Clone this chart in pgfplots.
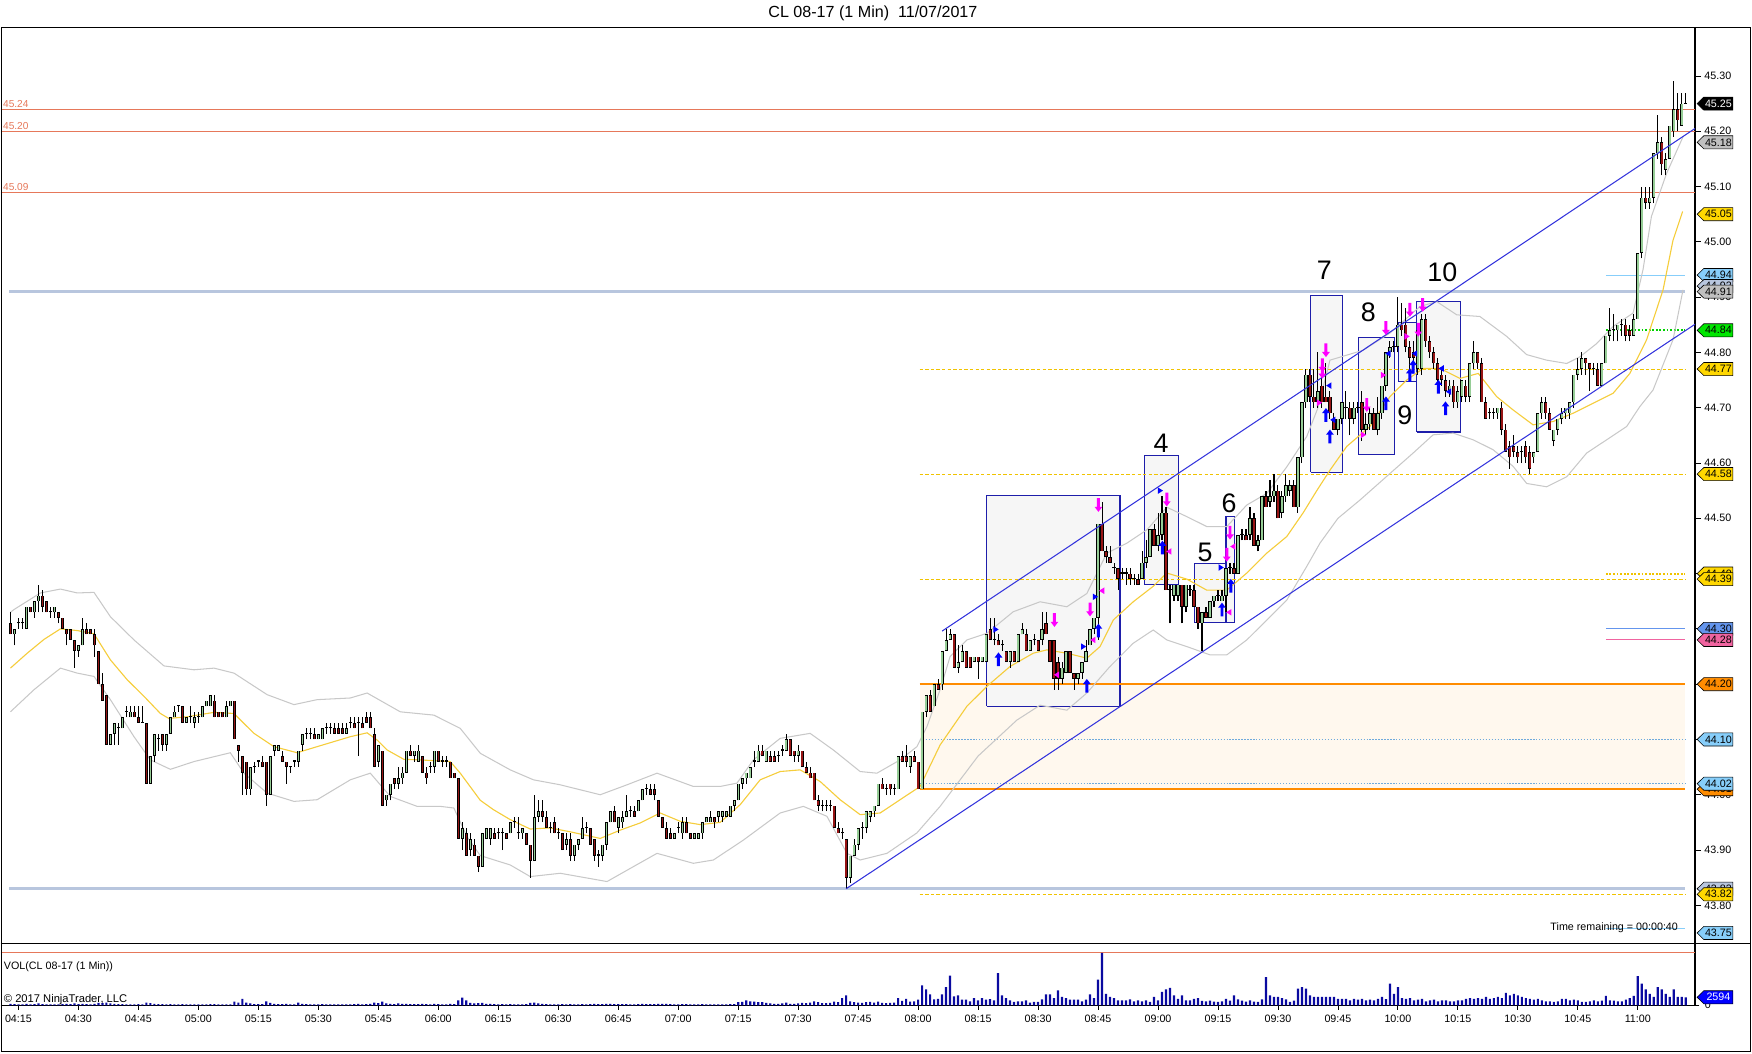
\documentclass[border=0pt]{standalone}
\usepackage{pgfplots}
\usepackage{pgfplotstable}
\pgfplotsset{compat=1.18}
\usepackage{fontspec}
\setmainfont{Liberation Sans}

\definecolor{upc}{RGB}{150,205,150}
\definecolor{dnc}{RGB}{150,20,20}
\definecolor{ema}{RGB}{245,205,60}
\definecolor{band}{RGB}{200,200,200}
\definecolor{salmon}{RGB}{230,120,90}
\definecolor{lsb}{RGB}{184,198,222}
\definecolor{gold}{RGB}{240,195,0}
\definecolor{orng}{RGB}{255,140,0}
\definecolor{zone}{RGB}{255,248,238}
\definecolor{dotblue}{RGB}{110,170,220}
\definecolor{chan}{RGB}{50,50,220}
\definecolor{boxb}{RGB}{30,30,170}
\definecolor{boxf}{RGB}{246,246,246}
\definecolor{arrb}{RGB}{0,0,255}
\definecolor{arrm}{RGB}{255,0,255}
\definecolor{volb}{RGB}{10,10,160}
\definecolor{tgold}{RGB}{255,215,0}
\definecolor{tsky}{RGB}{135,206,250}
\definecolor{tgray}{RGB}{192,192,192}
\definecolor{tgreen}{RGB}{0,230,0}
\definecolor{tcorn}{RGB}{100,149,237}
\definecolor{tpink}{RGB}{240,100,160}
\definecolor{gdot}{RGB}{0,210,0}

\newcommand{\tickfont}{\fontsize{7.2}{8}\selectfont}
\newcommand{\bignum}{\fontsize{18}{18}\selectfont}
\newcommand{\ptag}[4]{%
  \draw[fill=#2,line width=0.4pt,shift={(axis cs:419.83,#1)}]
    (0pt,0pt) -- (4.5pt,4.4pt) -- (24pt,4.4pt) -- (24pt,-4.4pt) -- (4.5pt,-4.4pt) -- cycle
    (14.3pt,0pt) node[text=#3,font=\tickfont,inner sep=0pt] {#4};}

\pgfdeclareplotmark{uarr}{%
 \pgfpathmoveto{\pgfqpoint{0pt}{4.6pt}}\pgfpathlineto{\pgfqpoint{2.6pt}{1.2pt}}%
 \pgfpathlineto{\pgfqpoint{1pt}{1.2pt}}\pgfpathlineto{\pgfqpoint{1pt}{-4.6pt}}%
 \pgfpathlineto{\pgfqpoint{-1pt}{-4.6pt}}\pgfpathlineto{\pgfqpoint{-1pt}{1.2pt}}%
 \pgfpathlineto{\pgfqpoint{-2.6pt}{1.2pt}}\pgfpathclose\pgfusepathqfill}
\pgfdeclareplotmark{darr}{%
 \pgfpathmoveto{\pgfqpoint{0pt}{-4.6pt}}\pgfpathlineto{\pgfqpoint{2.6pt}{-1.2pt}}%
 \pgfpathlineto{\pgfqpoint{1pt}{-1.2pt}}\pgfpathlineto{\pgfqpoint{1pt}{4.6pt}}%
 \pgfpathlineto{\pgfqpoint{-1pt}{4.6pt}}\pgfpathlineto{\pgfqpoint{-1pt}{-1.2pt}}%
 \pgfpathlineto{\pgfqpoint{-2.6pt}{-1.2pt}}\pgfpathclose\pgfusepathqfill}
\pgfdeclareplotmark{rtri}{%
 \pgfpathmoveto{\pgfqpoint{2pt}{0pt}}\pgfpathlineto{\pgfqpoint{-1.5pt}{2.2pt}}%
 \pgfpathlineto{\pgfqpoint{-1.5pt}{-2.2pt}}\pgfpathclose\pgfusepathqfill}
\pgfdeclareplotmark{ltri}{%
 \pgfpathmoveto{\pgfqpoint{-2pt}{0pt}}\pgfpathlineto{\pgfqpoint{1.5pt}{2.2pt}}%
 \pgfpathlineto{\pgfqpoint{1.5pt}{-2.2pt}}\pgfpathclose\pgfusepathqfill}

\pgfplotstableread{
t o h l c v
-2 44.31 44.33 44.29 44.29 500
-1 44.29 44.30 44.27 44.30 400
0 44.31 44.32 44.30 44.31 300
1 44.31 44.32 44.30 44.31 300
2 44.30 44.34 44.30 44.34 500
3 44.34 44.34 44.33 44.33 300
4 44.33 44.35 44.32 44.35 400
5 44.35 44.38 44.33 44.36 600
6 44.36 44.37 44.33 44.34 400
7 44.35 44.35 44.33 44.33 300
8 44.33 44.34 44.32 44.33 300
9 44.33 44.34 44.32 44.34 300
10 44.33 44.33 44.31 44.32 300
11 44.32 44.32 44.30 44.30 400
12 44.30 44.30 44.27 44.29 500
13 44.30 44.30 44.28 44.28 400
14 44.28 44.28 44.23 44.26 600
15 44.26 44.27 44.25 44.27 400
16 44.27 44.32 44.27 44.30 500
17 44.30 44.31 44.29 44.29 400
18 44.30 44.30 44.29 44.29 300
19 44.29 44.30 44.25 44.27 500
20 44.26 44.26 44.20 44.20 800
21 44.20 44.22 44.17 44.17 700
22 44.18 44.18 44.09 44.09 900
23 44.09 44.11 44.09 44.11 600
24 44.11 44.13 44.09 44.13 500
25 44.12 44.13 44.09 44.12 400
26 44.12 44.14 44.12 44.14 400
27 44.15 44.16 44.14 44.15 300
28 44.14 44.16 44.14 44.15 300
29 44.15 44.16 44.14 44.14 300
30 44.14 44.16 44.13 44.13 400
31 44.13 44.16 44.13 44.13 300
32 44.13 44.13 44.02 44.02 900
33 44.02 44.07 44.02 44.07 700
34 44.07 44.11 44.06 44.11 500
35 44.10 44.11 44.08 44.10 400
36 44.11 44.11 44.08 44.09 400
37 44.09 44.11 44.08 44.11 300
38 44.11 44.14 44.11 44.14 400
39 44.14 44.16 44.14 44.15 300
40 44.16 44.16 44.15 44.16 300
41 44.16 44.16 44.13 44.13 400
42 44.13 44.14 44.13 44.14 300
43 44.14 44.16 44.13 44.14 300
44 44.13 44.15 44.12 44.14 300
45 44.14 44.15 44.13 44.14 300
46 44.14 44.16 44.14 44.16 300
47 44.16 44.17 44.16 44.17 300
48 44.16 44.18 44.16 44.18 400
49 44.17 44.18 44.14 44.14 400
50 44.15 44.15 44.14 44.14 300
51 44.15 44.15 44.14 44.14 300
52 44.14 44.17 44.14 44.16 300
53 44.16 44.17 44.16 44.17 300
54 44.17 44.17 44.10 44.10 1200
55 44.09 44.09 44.06 44.08 900
56 44.07 44.07 44.00 44.04 2100
57 44.06 44.06 44.00 44.01 900
58 44.01 44.05 44.00 44.05 600
59 44.05 44.06 44.04 44.05 400
60 44.06 44.06 44.05 44.06 400
61 44.06 44.07 44.05 44.05 400
62 44.06 44.06 43.98 44.00 1300
63 44.00 44.07 44.00 44.07 800
64 44.08 44.09 44.07 44.09 500
65 44.08 44.09 44.08 44.09 400
66 44.07 44.08 44.06 44.06 400
67 44.06 44.06 44.02 44.05 500
68 44.05 44.05 44.04 44.05 300
69 44.06 44.06 44.05 44.06 300
70 44.06 44.08 44.05 44.08 900
71 44.09 44.11 44.08 44.11 500
72 44.11 44.12 44.10 44.11 400
73 44.11 44.12 44.10 44.11 300
74 44.11 44.12 44.10 44.10 300
75 44.10 44.11 44.10 44.11 300
76 44.10 44.12 44.10 44.12 400
77 44.12 44.13 44.11 44.12 300
78 44.12 44.13 44.11 44.12 300
79 44.12 44.13 44.11 44.11 300
80 44.12 44.13 44.11 44.11 300
81 44.12 44.13 44.11 44.11 300
82 44.11 44.13 44.11 44.12 300
83 44.13 44.14 44.12 44.13 300
84 44.13 44.14 44.12 44.12 400
85 44.13 44.14 44.07 44.13 500
86 44.13 44.14 44.12 44.12 300
87 44.14 44.15 44.13 44.13 400
88 44.14 44.15 44.12 44.12 500
89 44.11 44.12 44.05 44.05 900
90 44.06 44.09 44.05 44.09 700
91 44.08 44.08 43.98 43.98 1200
92 43.99 44.00 43.98 44.00 600
93 44.00 44.02 43.99 44.02 500
94 44.03 44.03 44.01 44.02 400
95 44.02 44.05 44.01 44.03 600
96 44.03 44.05 44.02 44.04 500
97 44.04 44.08 44.04 44.08 500
98 44.08 44.09 44.07 44.07 400
99 44.07 44.08 44.06 44.08 400
100 44.06 44.09 44.06 44.08 400
101 44.07 44.07 44.04 44.04 500
102 44.04 44.05 44.02 44.03 400
103 44.05 44.06 44.04 44.05 300
104 44.05 44.08 44.04 44.08 500
105 44.08 44.08 44.06 44.06 400
106 44.06 44.07 44.05 44.06 300
107 44.06 44.07 44.05 44.06 300
108 44.06 44.06 44.03 44.03 500
109 44.04 44.04 44.03 44.03 400
110 44.03 44.03 43.92 43.92 1600
111 43.92 43.95 43.90 43.94 2500
112 43.93 43.94 43.89 43.89 1600
113 43.90 43.93 43.89 43.92 800
114 43.91 43.92 43.89 43.89 600
115 43.89 43.89 43.86 43.87 700
116 43.87 43.93 43.87 43.93 800
117 43.92 43.94 43.92 43.94 500
118 43.92 43.94 43.91 43.94 500
119 43.93 43.94 43.92 43.92 400
120 43.93 43.94 43.92 43.93 300
121 43.93 43.94 43.90 43.93 400
122 43.93 43.93 43.92 43.92 300
123 43.93 43.95 43.93 43.95 400
124 43.95 43.96 43.94 43.95 300
125 43.93 43.96 43.92 43.93 300
126 43.93 43.94 43.92 43.94 300
127 43.93 43.93 43.91 43.91 400
128 43.91 43.91 43.85 43.88 800
129 43.88 44.00 43.88 43.96 900
130 43.96 43.99 43.95 43.97 600
131 43.97 43.99 43.95 43.96 500
132 43.96 43.97 43.94 43.94 400
133 43.94 43.95 43.93 43.94 300
134 43.95 43.96 43.93 43.93 300
135 43.93 43.94 43.92 43.93 300
136 43.93 43.93 43.90 43.90 400
137 43.91 43.93 43.90 43.92 300
138 43.92 43.93 43.88 43.89 400
139 43.89 43.91 43.88 43.91 300
140 43.91 43.92 43.90 43.92 300
141 43.92 43.96 43.92 43.94 400
142 43.94 43.95 43.93 43.94 300
143 43.94 43.94 43.91 43.91 400
144 43.92 43.92 43.88 43.89 500
145 43.89 43.90 43.87 43.89 400
146 43.89 43.91 43.88 43.91 400
147 43.91 43.95 43.90 43.95 500
148 43.95 43.97 43.95 43.97 500
149 43.97 43.98 43.95 43.95 400
150 43.94 43.96 43.93 43.96 400
151 43.95 43.97 43.94 43.96 400
152 43.96 44.00 43.96 43.97 400
153 43.97 43.98 43.96 43.97 300
154 43.97 43.98 43.96 43.96 300
155 43.97 43.99 43.97 43.99 400
156 43.99 44.01 43.99 44.01 500
157 44.01 44.02 44.00 44.01 400
158 44.01 44.02 44.00 44.00 400
159 44.01 44.02 43.99 44.00 400
160 43.99 43.99 43.96 43.96 500
161 43.96 43.96 43.94 43.94 500
162 43.94 43.95 43.92 43.92 500
163 43.93 43.94 43.92 43.92 400
164 43.92 43.93 43.92 43.93 300
165 43.94 43.95 43.93 43.94 300
166 43.93 43.96 43.92 43.95 400
167 43.95 43.96 43.93 43.93 400
168 43.93 43.93 43.92 43.92 300
169 43.92 43.93 43.92 43.93 300
170 43.92 43.93 43.92 43.93 300
171 43.93 43.95 43.92 43.95 400
172 43.95 43.96 43.95 43.96 300
173 43.95 43.97 43.95 43.96 300
174 43.96 43.96 43.94 43.95 300
175 43.96 43.97 43.95 43.97 300
176 43.96 43.97 43.95 43.97 300
177 43.96 43.97 43.96 43.97 300
178 43.96 43.98 43.96 43.98 400
179 43.98 43.99 43.97 43.99 400
180 43.99 44.02 43.99 44.02 1000
181 44.02 44.03 44.01 44.03 1100
182 44.03 44.04 44.02 44.04 1600
183 44.03 44.05 44.03 44.05 1300
184 44.06 44.08 44.05 44.06 1200
185 44.06 44.09 44.06 44.08 1000
186 44.08 44.09 44.07 44.07 1000
187 44.06 44.08 44.06 44.08 800
188 44.07 44.08 44.06 44.06 600
189 44.07 44.08 44.06 44.06 500
190 44.07 44.08 44.06 44.07 500
191 44.08 44.09 44.07 44.08 600
192 44.08 44.11 44.08 44.10 900
193 44.10 44.10 44.07 44.07 500
194 44.08 44.08 44.06 44.07 500
195 44.07 44.09 44.06 44.08 600
196 44.08 44.08 44.05 44.05 800
197 44.05 44.06 44.04 44.04 700
198 44.04 44.05 44.03 44.03 900
199 44.04 44.04 43.99 43.99 1300
200 43.99 44.00 43.97 43.98 1000
201 43.98 43.99 43.97 43.98 700
202 43.98 43.99 43.97 43.98 700
203 43.98 43.99 43.97 43.98 800
204 43.98 43.98 43.94 43.94 1200
205 43.94 43.95 43.93 43.93 1000
206 43.93 43.94 43.92 43.93 2300
207 43.92 43.92 43.83 43.85 3200
208 43.85 43.89 43.84 43.89 1300
209 43.89 43.92 43.89 43.91 1000
210 43.91 43.94 43.90 43.94 900
211 43.94 43.95 43.92 43.94 800
212 43.94 43.97 43.93 43.97 1000
213 43.96 43.97 43.95 43.97 1100
214 43.97 43.98 43.96 43.98 900
215 43.98 44.02 43.98 44.02 1200
216 44.02 44.03 44.01 44.01 800
217 44.01 44.02 44.00 44.01 700
218 44.02 44.02 44.00 44.01 800
219 44.01 44.02 44.00 44.01 900
220 44.01 44.07 44.01 44.07 2300
221 44.07 44.08 44.06 44.06 1400
222 44.07 44.09 44.05 44.06 2100
223 44.05 44.07 44.04 44.07 1200
224 44.07 44.08 44.06 44.06 1300
225 44.06 44.06 44.01 44.01 1800
226 44.01 44.15 44.01 44.15 6400
227 44.15 44.18 44.14 44.18 5100
228 44.18 44.19 44.15 44.15 3500
229 44.16 44.20 44.16 44.20 1900
230 44.20 44.21 44.19 44.19 2100
231 44.20 44.26 44.19 44.26 3500
232 44.26 44.30 44.26 44.28 5900
233 44.28 44.30 44.28 44.29 9600
234 44.29 44.29 44.23 44.23 2900
235 44.23 44.27 44.22 44.24 3200
236 44.24 44.27 44.24 44.26 1800
237 44.26 44.26 44.23 44.23 1800
238 44.25 44.25 44.23 44.23 1300
239 44.24 44.25 44.24 44.25 2300
240 44.25 44.25 44.21 44.24 1600
241 44.24 44.25 44.24 44.25 2300
242 44.24 44.29 44.24 44.29 1800
243 44.30 44.32 44.28 44.28 2000
244 44.28 44.32 44.27 44.28 1600
245 44.28 44.29 44.27 44.27 10400
246 44.27 44.28 44.26 44.27 3200
247 44.26 44.26 44.24 44.24 2300
248 44.24 44.26 44.23 44.26 1600
249 44.26 44.26 44.24 44.24 1100
250 44.24 44.29 44.24 44.29 1300
251 44.29 44.31 44.29 44.30 1300
252 44.29 44.30 44.26 44.26 1600
253 44.26 44.28 44.26 44.28 900
254 44.28 44.29 44.27 44.28 1100
255 44.28 44.28 44.26 44.26 1100
256 44.28 44.33 44.27 44.30 1900
257 44.31 44.33 44.29 44.29 3500
258 44.28 44.28 44.24 44.24 3500
259 44.28 44.28 44.19 44.21 2300
260 44.24 44.25 44.19 44.21 4800
261 44.21 44.24 44.20 44.23 2700
262 44.22 44.26 44.22 44.26 2300
263 44.26 44.26 44.22 44.22 1800
264 44.22 44.22 44.19 44.21 1800
265 44.21 44.22 44.20 44.22 1800
266 44.22 44.24 44.21 44.24 1300
267 44.24 44.28 44.24 44.26 1800
268 44.27 44.30 44.27 44.30 3500
269 44.30 44.32 44.29 44.32 2300
270 44.32 44.49 44.28 44.49 8300
271 44.49 44.53 44.44 44.44 16900
272 44.44 44.45 44.42 44.43 3700
273 44.43 44.45 44.42 44.42 2700
274 44.41 44.42 44.40 44.41 2300
275 44.41 44.41 44.37 44.39 1600
276 44.40 44.41 44.39 44.40 1600
277 44.40 44.41 44.38 44.40 1600
278 44.40 44.41 44.38 44.39 1900
279 44.39 44.40 44.38 44.39 1300
280 44.39 44.40 44.38 44.38 1600
281 44.39 44.44 44.39 44.42 1300
282 44.42 44.46 44.41 44.43 1600
283 44.43 44.48 44.43 44.48 1100
284 44.48 44.49 44.45 44.45 2700
285 44.45 44.51 44.44 44.47 1600
286 44.47 44.54 44.46 44.51 4300
287 44.51 44.52 44.37 44.37 5100
288 44.37 44.38 44.31 44.37 5600
289 44.36 44.38 44.35 44.38 3200
290 44.36 44.38 44.35 44.38 2100
291 44.38 44.38 44.31 44.34 3200
292 44.34 44.38 44.33 44.38 1600
293 44.37 44.38 44.36 44.37 1600
294 44.37 44.38 44.34 44.34 2100
295 44.34 44.34 44.30 44.31 2300
296 44.31 44.33 44.26 44.33 1400
297 44.33 44.34 44.32 44.32 1300
298 44.32 44.35 44.32 44.35 1500
299 44.35 44.36 44.34 44.36 1200
300 44.36 44.37 44.35 44.36 1100
301 44.35 44.37 44.35 44.36 1300
302 44.36 44.41 44.33 44.41 2100
303 44.41 44.42 44.40 44.41 1500
304 44.41 44.42 44.40 44.40 3200
305 44.40 44.47 44.40 44.47 1900
306 44.47 44.48 44.46 44.47 1500
307 44.47 44.48 44.46 44.46 1200
308 44.47 44.52 44.46 44.50 1600
309 44.50 44.51 44.45 44.45 1200
310 44.45 44.47 44.44 44.46 1100
311 44.46 44.54 44.46 44.54 1900
312 44.54 44.55 44.52 44.52 9100
313 44.53 44.57 44.52 44.54 3200
314 44.54 44.58 44.53 44.55 2700
315 44.55 44.56 44.50 44.50 2700
316 44.51 44.55 44.50 44.54 2300
317 44.54 44.58 44.53 44.56 1900
318 44.55 44.57 44.54 44.56 1100
319 44.56 44.57 44.52 44.52 1500
320 44.52 44.61 44.51 44.61 5400
321 44.61 44.71 44.60 44.71 5900
322 44.71 44.77 44.70 44.76 5400
323 44.76 44.77 44.71 44.72 3200
324 44.72 44.77 44.70 44.71 2700
325 44.71 44.80 44.70 44.73 2700
326 44.74 44.78 44.70 44.71 2700
327 44.72 44.78 44.71 44.71 2700
328 44.72 44.73 44.68 44.69 2700
329 44.68 44.69 44.66 44.66 2700
330 44.66 44.68 44.65 44.68 2100
331 44.68 44.71 44.67 44.71 2100
332 44.70 44.73 44.68 44.70 2100
333 44.70 44.71 44.65 44.68 1600
334 44.68 44.71 44.67 44.70 2100
335 44.70 44.71 44.69 44.70 1800
336 44.71 44.73 44.64 44.66 2100
337 44.66 44.69 44.65 44.67 1600
338 44.67 44.70 44.66 44.69 1800
339 44.69 44.70 44.66 44.66 1600
340 44.66 44.72 44.65 44.69 2100
341 44.69 44.74 44.68 44.74 2700
342 44.74 44.80 44.73 44.80 2000
343 44.80 44.82 44.79 44.81 7000
344 44.81 44.82 44.80 44.81 3700
345 44.81 44.90 44.80 44.85 5900
346 44.85 44.89 44.83 44.84 2300
347 44.85 44.88 44.80 44.81 2100
348 44.81 44.82 44.77 44.79 2300
349 44.80 44.82 44.78 44.79 1600
350 44.77 44.85 44.76 44.84 1800
351 44.77 44.87 44.76 44.86 2100
352 44.86 44.87 44.81 44.82 1300
353 44.82 44.83 44.79 44.80 1600
354 44.80 44.81 44.77 44.78 1800
355 44.78 44.79 44.74 44.75 1300
356 44.76 44.77 44.74 44.75 1600
357 44.75 44.76 44.72 44.73 1600
358 44.73 44.75 44.72 44.74 1300
359 44.74 44.75 44.70 44.71 1300
360 44.71 44.74 44.70 44.73 1600
361 44.72 44.75 44.71 44.75 1600
362 44.74 44.75 44.71 44.72 2100
363 44.72 44.78 44.71 44.78 2300
364 44.78 44.82 44.77 44.80 2100
365 44.80 44.80 44.77 44.78 2300
366 44.78 44.79 44.71 44.71 2100
367 44.71 44.72 44.68 44.68 2700
368 44.69 44.70 44.68 44.69 2100
369 44.69 44.70 44.68 44.69 2300
370 44.69 44.70 44.68 44.70 2700
371 44.70 44.71 44.65 44.66 2300
372 44.66 44.67 44.62 44.62 4000
373 44.63 44.64 44.59 44.61 3200
374 44.63 44.65 44.61 44.62 3700
375 44.62 44.63 44.60 44.61 3200
376 44.62 44.63 44.60 44.62 2700
377 44.63 44.64 44.60 44.61 2300
378 44.62 44.63 44.58 44.59 2100
379 44.61 44.62 44.60 44.62 1800
380 44.62 44.69 44.62 44.69 2100
381 44.69 44.72 44.68 44.71 1600
382 44.71 44.72 44.68 44.69 1300
383 44.69 44.70 44.66 44.66 1300
384 44.64 44.66 44.63 44.66 1100
385 44.66 44.68 44.65 44.68 1300
386 44.68 44.70 44.67 44.69 2100
387 44.69 44.70 44.68 44.70 2100
388 44.69 44.71 44.68 44.71 1600
389 44.71 44.76 44.70 44.76 1800
390 44.76 44.79 44.75 44.77 1600
391 44.77 44.80 44.76 44.79 1100
392 44.79 44.79 44.76 44.78 1100
393 44.78 44.78 44.73 44.77 1300
394 44.77 44.78 44.76 44.77 1600
395 44.77 44.78 44.74 44.74 1300
396 44.74 44.78 44.74 44.78 1500
397 44.78 44.83 44.78 44.83 3000
398 44.83 44.88 44.82 44.84 1600
399 44.84 44.87 44.82 44.84 1500
400 44.84 44.85 44.82 44.85 1300
401 44.85 44.86 44.83 44.85 1300
402 44.85 44.86 44.82 44.83 1800
403 44.84 44.85 44.82 44.83 2300
404 44.83 44.87 44.83 44.86 3000
405 44.86 44.98 44.86 44.98 9400
406 44.98 45.10 44.97 45.08 7000
407 45.08 45.10 45.06 45.07 5100
408 45.07 45.10 45.06 45.08 3700
409 45.08 45.16 45.07 45.16 2700
410 45.16 45.23 45.15 45.18 5900
411 45.18 45.19 45.12 45.14 5100
412 45.13 45.16 45.12 45.15 3700
413 45.15 45.21 45.15 45.21 2700
414 45.20 45.29 45.19 45.24 5100
415 45.24 45.27 45.20 45.22 2700
416 45.21 45.27 45.21 45.25 2700
417 45.25 45.27 45.25 45.25 2594
}\candles

\begin{document}
\begin{tikzpicture}
\begin{scope}[x=0.75pt,y=-0.75pt]
\useasboundingbox (0,0) rectangle (1568,943);
\end{scope}

% ---------------- price panel ----------------
\begin{axis}[name=price, at={(0pt,-633.75pt)}, anchor=south west,
  scale only axis, width=1137.75pt, height=615.75pt,
  xmin=-4.47, xmax=419.3, ymin=43.7303, ymax=45.3889,
  axis x line=none, axis y line*=right,
  axis line style={line width=0.75pt},
  xtick=\empty,
  ytick={43.8,43.9,44.0,44.1,44.2,44.3,44.4,44.5,44.6,44.7,44.8,44.9,45.0,45.1,45.2,45.3},
  yticklabels={43.80,43.90,44.00,44.10,44.20,44.30,44.40,44.50,44.60,44.70,44.80,44.90,45.00,45.10,45.20,45.30},
  yticklabel style={font=\tickfont, xshift=-1pt},
  tick align=outside, major tick length=3.75pt,
  tick style={black, line width=0.6pt},
  clip mode=individual]

% zone
\addplot[fill=zone, draw=none] coordinates {(225.4,44.01) (416.9,44.01) (416.9,44.20) (225.4,44.20)};
% boxes
\addplot[fill=boxf, draw=boxb, line width=0.75pt] coordinates {(242.2,44.160) (275.5,44.160) (275.5,44.541) (242.2,44.541) (242.2,44.160)};
\addplot[fill=boxf, draw=boxb, line width=0.75pt] coordinates {(281.6,44.381) (290.1,44.381) (290.1,44.613) (281.6,44.613) (281.6,44.381)};
\addplot[fill=boxf, draw=boxb, line width=0.75pt] coordinates {(294.1,44.312) (303.2,44.312) (303.2,44.419) (294.1,44.419) (294.1,44.312)};
\addplot[fill=boxf, draw=boxb, line width=0.75pt] coordinates {(302.0,44.312) (304.1,44.312) (304.1,44.503) (302.0,44.503) (302.0,44.312)};
\addplot[fill=boxf, draw=boxb, line width=0.75pt] coordinates {(323.2,44.583) (331.2,44.583) (331.2,44.903) (323.2,44.903) (323.2,44.583)};
\addplot[fill=boxf, draw=boxb, line width=0.75pt] coordinates {(335.1,44.615) (344.1,44.615) (344.1,44.827) (335.1,44.827) (335.1,44.615)};
\addplot[fill=boxf, draw=boxb, line width=0.75pt] coordinates {(349.7,44.656) (360.7,44.656) (360.7,44.892) (349.7,44.892) (349.7,44.656)};
\addplot[fill=boxf, draw=boxb, line width=0.75pt] coordinates {(345.1,44.747) (349.7,44.747) (349.7,44.854) (345.1,44.854) (345.1,44.747)};

% horizontal lines
\addplot[salmon, line width=0.75pt] coordinates {(-4.47,45.24) (419.3,45.24)};
\addplot[salmon, line width=0.75pt] coordinates {(-4.47,45.20) (419.3,45.20)};
\addplot[salmon, line width=0.75pt] coordinates {(-4.47,45.09) (419.3,45.09)};
\addplot[lsb, line width=2.2pt] coordinates {(-2.3,44.91) (416.9,44.91)};
\addplot[lsb, line width=2.2pt] coordinates {(-2.3,43.83) (416.9,43.83)};
\addplot[orng, line width=1.5pt] coordinates {(225.4,44.20) (416.9,44.20)};
\addplot[orng, line width=1.5pt] coordinates {(225.4,44.01) (416.9,44.01)};
\addplot[dotblue, line width=0.6pt, dash pattern=on 0.8pt off 1.2pt] coordinates {(225.4,44.10) (416.9,44.10)};
\addplot[dotblue, line width=0.6pt, dash pattern=on 0.8pt off 1.2pt] coordinates {(225.4,44.02) (416.9,44.02)};
\addplot[gold, line width=0.6pt, dash pattern=on 2.25pt off 1.5pt] coordinates {(225.4,44.77) (416.9,44.77)};
\addplot[gold, line width=0.6pt, dash pattern=on 2.25pt off 1.5pt] coordinates {(225.4,44.58) (416.9,44.58)};
\addplot[gold, line width=0.6pt, dash pattern=on 2.25pt off 1.5pt] coordinates {(225.4,44.39) (416.9,44.39)};
\addplot[gold, line width=0.6pt, dash pattern=on 2.25pt off 1.5pt] coordinates {(225.4,43.82) (416.9,43.82)};
\addplot[gold, line width=1.3pt, dash pattern=on 1.2pt off 1.2pt] coordinates {(397,44.40) (416.9,44.40)};
\addplot[gdot, line width=1.3pt, dash pattern=on 1.2pt off 1.2pt] coordinates {(397,44.84) (416.9,44.84)};
\addplot[tsky, line width=0.6pt] coordinates {(397,44.94) (416.9,44.94)};
\addplot[tcorn, line width=0.75pt] coordinates {(397,44.30) (416.9,44.30)};
\addplot[tpink, line width=0.75pt] coordinates {(397,44.28) (416.9,44.28)};
\addplot[tsky, line width=0.6pt] coordinates {(397,43.758) (416.9,43.758)};

% bands
\addplot[band, line width=0.7pt] coordinates {(-2,44.33) (-1.1,44.335) (5.5,44.365) (10.5,44.372) (14.7,44.365) (18.9,44.366) (23,44.322) (28.9,44.280) (36.4,44.233) (43.9,44.226) (48.9,44.229) (53.9,44.220) (62.2,44.181) (68.9,44.163) (74.7,44.172) (83,44.175) (87.2,44.184) (95.5,44.150) (103.9,44.144) (110.5,44.12) (115.5,44.075) (123,44.045) (128.8,44.027) (135.5,44.018) (145.5,44.000) (152.2,44.018) (159.7,44.039) (168.8,44.015) (175.5,44.015) (179.7,44.021) (183.8,44.063) (190.5,44.102) (198,44.111) (203.8,44.081) (210.5,44.042) (214.7,44.039) (220.5,44.063) (224.7,44.087) (227.2,44.123) (230.5,44.19) (233,44.25) (237.2,44.280) (242.2,44.292) (248.8,44.331) (255.5,44.349) (262.2,44.340) (267.2,44.364) (272.2,44.437) (277.2,44.455) (282.2,44.479) (287.2,44.520) (292.2,44.503) (297.2,44.485) (302.2,44.485) (307.2,44.524) (312.2,44.545) (317.2,44.593) (322.2,44.648) (325,44.70) (328,44.786) (336.3,44.804) (343,44.835) (350.5,44.883) (354.7,44.892) (359.7,44.868) (365.5,44.865) (372.2,44.829) (377.2,44.796) (382.2,44.786) (387.2,44.780) (390.5,44.792) (394.7,44.816) (398.8,44.847) (403.8,44.871) (406.3,44.95) (408.4,45.046) (412.2,45.124) (416.3,45.190)};
\addplot[band, line width=0.7pt] coordinates {(-2,44.150) (3.9,44.190) (10.5,44.229) (14.7,44.220) (18.9,44.214) (23,44.172) (28.9,44.105) (33,44.063) (38,44.046) (43.9,44.060) (53,44.076) (56.4,44.039) (62.2,44.003) (68.9,43.988) (74.7,43.991) (83,44.027) (88,44.039) (93,43.997) (99.7,43.979) (105.5,43.979) (108.9,43.976) (112.2,43.924) (115.5,43.89) (123,43.873) (128,43.852) (135.5,43.858) (147.2,43.843) (153.8,43.870) (159.7,43.894) (168.8,43.876) (173.8,43.882) (181.3,43.918) (190.5,43.967) (196.3,43.979) (202.2,43.961) (207.2,43.894) (210.5,43.882) (217.2,43.894) (224.7,43.931) (230.5,43.979) (240,44.07) (249.7,44.135) (255.5,44.162) (262.2,44.153) (267.2,44.184) (273,44.232) (278.8,44.274) (283.8,44.298) (287.2,44.280) (292.2,44.268) (298,44.253) (302.2,44.253) (307.2,44.280) (312.2,44.316) (317.2,44.352) (322.2,44.413) (325.5,44.455) (330,44.50) (335.5,44.533) (343,44.581) (348.8,44.618) (353.8,44.651) (358.8,44.654) (363.8,44.642) (368.8,44.624) (373.8,44.594) (377.2,44.563) (382.2,44.557) (387.2,44.575) (392.2,44.618) (397.2,44.642) (402.2,44.666) (405.5,44.702) (408.8,44.732) (413.8,44.823) (416.3,44.913)};
% ema
\addplot[ema, line width=0.75pt] coordinates {(-2,44.229) (2.2,44.256) (6.4,44.281) (10.5,44.300) (14.7,44.297) (18.9,44.291) (23,44.244) (27.2,44.208) (31.4,44.178) (35.5,44.147) (37.6,44.138) (42.2,44.141) (48.9,44.149) (53.9,44.147) (58.9,44.111) (63.9,44.087) (69.7,44.076) (74.7,44.087) (83,44.105) (87.2,44.112) (89.7,44.099) (92.2,44.081) (96.4,44.064) (100.5,44.063) (108,44.060) (110.5,44.039) (115.5,43.99) (118.8,43.973) (123,43.955) (128,43.938) (133,43.940) (138,43.933) (145.5,43.921) (150.5,43.936) (155.5,43.949) (160.5,43.967) (165.5,43.952) (170.5,43.946) (175.5,43.950) (180.5,43.982) (185.5,44.027) (190.5,44.042) (195.5,44.045) (200.5,44.024) (205.5,43.991) (210.5,43.964) (215.5,43.967) (220.5,43.991) (225.5,44.015) (230.5,44.09) (237.2,44.160) (242.2,44.196) (248,44.232) (253.8,44.256) (257.2,44.262) (262.2,44.256) (267.2,44.247) (270.5,44.268) (273.8,44.316) (278.8,44.349) (283.8,44.377) (287.2,44.401) (292.2,44.390) (297.2,44.370) (302.2,44.370) (307.2,44.401) (312.2,44.437) (317.2,44.467) (321.3,44.51) (324.7,44.55) (328,44.587) (332.2,44.630) (338,44.666) (343,44.720) (347.2,44.750) (351.3,44.771) (355.5,44.771) (360.5,44.753) (365.1,44.762) (369.7,44.720) (373.8,44.696) (378.8,44.669) (383.8,44.675) (388.8,44.690) (393.8,44.708) (398.8,44.726) (403,44.762) (407.2,44.823) (411.3,44.913) (413.8,45.003) (416.2,45.055)};

% candles: wicks
\addplot[draw=none, mark=none, error bars/.cd, y dir=plus, y explicit, error mark=none,
  error bar style={draw=black, line width=0.7pt}]
  table[x=t, y=l, y error plus expr={\thisrow{h}-\thisrow{l}}] {\candles};
% bodies outline
\addplot[draw=none, mark=none, error bars/.cd, y dir=plus, y explicit, error mark=none,
  error bar style={draw=black, line width=2.1pt}]
  table[x=t, y expr={min(\thisrow{o},\thisrow{c})}, y error plus expr={max(abs(\thisrow{c}-\thisrow{o}),0.002)}] {\candles};
% up fill
\addplot[draw=none, mark=none, error bars/.cd, y dir=plus, y explicit, error mark=none,
  error bar style={draw=upc, line width=0.9pt}]
  table[x=t, y expr={\thisrow{c}>\thisrow{o} ? \thisrow{o}+0.0012 : nan}, y error plus expr={\thisrow{c}-\thisrow{o}-0.0024}] {\candles};
% down fill
\addplot[draw=none, mark=none, error bars/.cd, y dir=plus, y explicit, error mark=none,
  error bar style={draw=dnc, line width=0.9pt}]
  table[x=t, y expr={\thisrow{o}>\thisrow{c} ? \thisrow{c}+0.0012 : nan}, y error plus expr={\thisrow{o}-\thisrow{c}-0.0024}] {\candles};

% channel
\addplot[chan, line width=0.7pt] coordinates {(207,43.83) (419.3,44.851)};
\addplot[chan, line width=0.7pt] coordinates {(231,44.296) (419.3,45.205)};

% arrows
\addplot[only marks, mark=uarr, color=arrb] coordinates {(245.1,44.245) (267.2,44.197) (270.1,44.297) (286.1,44.447) (301,44.335) (303.2,44.378) (327,44.687) (328,44.648) (342,44.708) (348,44.759) (348.8,44.774) (355.1,44.738) (356.9,44.699)};
\addplot[only marks, mark=darr, color=arrm] coordinates {(270.1,44.524) (259.1,44.316) (268,44.335) (287.2,44.534) (303,44.474) (302.2,44.434) (327,44.804) (326.1,44.777) (326.1,44.765) (337.2,44.705) (342,44.844) (348,44.877) (351.2,44.886) (350.1,44.841)};
\addplot[only marks, mark=rtri, color=arrb] coordinates {(244.4,44.299) (266.3,44.268) (269.25,44.358) (285.5,44.550) (300.7,44.411)};
\addplot[only marks, mark=ltri, color=arrm] coordinates {(271,44.369) (268.8,44.280) (259.7,44.217) (287.8,44.440) (302.8,44.330) (303.8,44.449)};
\addplot[only marks, mark=ltri, color=arrb] coordinates {(327.8,44.740) (328.8,44.678) (342.6,44.798) (355.9,44.771) (357.75,44.729) (349.25,44.798)};
\addplot[only marks, mark=rtri, color=arrm] coordinates {(325.3,44.709) (336.3,44.651) (341.3,44.759) (347.2,44.829)};

% box numbers
\node[font=\bignum] at (axis cs:285.75,44.636) {4};
\node[font=\bignum] at (axis cs:296.75,44.438) {5};
\node[font=\bignum] at (axis cs:302.8,44.527) {6};
\node[font=\bignum] at (axis cs:326.6,44.949) {7};
\node[font=\bignum] at (axis cs:337.6,44.872) {8};
\node[font=\bignum] at (axis cs:346.75,44.687) {9};
\node[font=\bignum] at (axis cs:356.1,44.945) {10};

% left labels
\node[anchor=west, text=salmon, font=\fontsize{6.8}{7}\selectfont, inner sep=0pt] at (axis cs:-3.9,45.250) {45.24};
\node[anchor=west, text=salmon, font=\fontsize{6.8}{7}\selectfont, inner sep=0pt] at (axis cs:-3.9,45.210) {45.20};
\node[anchor=west, text=salmon, font=\fontsize{6.8}{7}\selectfont, inner sep=0pt] at (axis cs:-3.9,45.100) {45.09};

\node[anchor=east, font=\tickfont, inner sep=0pt] at (axis cs:415.1,43.7586) {Time remaining = 00:00:40};

% tags
\ptag{45.25}{black}{white}{45.25}
\ptag{45.18}{tgray}{black}{45.18}
\ptag{45.05}{tgold}{black}{45.05}
\ptag{44.94}{tsky}{black}{44.94}
\ptag{44.92}{lsb}{black}{44.92}
\ptag{44.91}{tgray}{black}{44.91}
\ptag{44.84}{tgreen}{black}{44.84}
\ptag{44.77}{tgold}{black}{44.77}
\ptag{44.58}{tgold}{black}{44.58}
\ptag{44.40}{tgold}{black}{44.40}
\ptag{44.39}{tgold}{black}{44.39}
\ptag{44.30}{tcorn}{black}{44.30}
\ptag{44.28}{tpink}{black}{44.28}
\ptag{44.20}{orng}{black}{44.20}
\ptag{44.10}{tsky}{black}{44.10}
\ptag{44.01}{orng}{black}{44.01}
\ptag{44.02}{tsky}{black}{44.02}
\ptag{43.83}{lsb}{black}{43.83}
\ptag{43.82}{tgold}{black}{43.82}
\ptag{43.75}{tsky}{black}{43.75}
\end{axis}

% ---------------- volume panel ----------------
\begin{axis}[name=vol, at={(0pt,-675pt)}, anchor=south west,
  scale only axis, width=1137.75pt, height=41.25pt,
  xmin=-4.47, xmax=419.3, ymin=0, ymax=19800,
  axis x line*=bottom, axis y line*=right,
  axis line style={line width=0.75pt},
  scaled y ticks=false,
  xtick={0,15,30,45,60,75,90,105,120,135,150,165,180,195,210,225,240,255,270,285,300,315,330,345,360,375,390,405},
  xticklabels={04:15,04:30,04:45,05:00,05:15,05:30,05:45,06:00,06:15,06:30,06:45,07:00,07:15,07:30,07:45,08:00,08:15,08:30,08:45,09:00,09:15,09:30,09:45,10:00,10:15,10:30,10:45,11:00},
  ytick={0}, yticklabels={0},
  ticklabel style={font=\tickfont},
  tick align=outside, major tick length=3pt,
  tick style={black, line width=0.6pt},
  clip mode=individual]
\addplot[salmon, line width=0.75pt] coordinates {(-4.47,16920) (419.3,16920)};
\addplot[ybar, bar width=0.55, fill=volb, draw=none] table[x=t, y=v] {\candles};
\node[anchor=west, font=\tickfont, inner sep=0pt] at (axis cs:-3.7,12300) {VOL(CL 08-17 (1 Min))};
\node[anchor=west, font=\fontsize{7.5}{8}\selectfont, inner sep=0pt] at (axis cs:-3.7,1800) {\textcopyright\ 2017 NinjaTrader, LLC};
\ptag{2594}{arrb}{white}{2594}
\end{axis}

% frame and title
\begin{scope}[x=0.75pt,y=-0.75pt]
\draw[line width=0.75pt] (0.5,24.5) rectangle (1567,941.5);
\draw[line width=0.75pt] (0,845) -- (1567,845);
\node[font=\fontsize{10.8}{12}\selectfont] at (781,12) {CL 08-17 (1 Min)\ \ 11/07/2017};
\end{scope}
\end{tikzpicture}
\end{document}
